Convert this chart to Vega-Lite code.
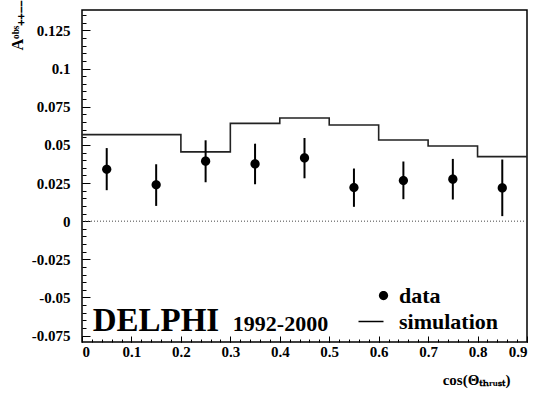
{
  "$schema": "https://vega.github.io/schema/vega-lite/v6.json",
  "width": 445,
  "height": 332,
  "autosize": {"type": "none"},
  "padding": {"left": 82, "top": 10, "right": 10, "bottom": 55},
  "background": "white",
  "config": {
    "view": {"stroke": "black", "strokeWidth": 1.5},
    "font": "serif",
    "axis": {
      "labelFont": "serif",
      "labelFontWeight": "bold",
      "labelFontSize": 15,
      "labelColor": "black",
      "titleFont": "serif",
      "titleFontWeight": "bold",
      "titleColor": "black",
      "tickColor": "black",
      "grid": false,
      "domain": false
    }
  },
  "datasets": {
    "points": [
      {"x": 0.05, "y": 0.0340, "lo": 0.0203, "hi": 0.0479, "series": "data"},
      {"x": 0.15, "y": 0.0238, "lo": 0.0100, "hi": 0.0373, "series": "data"},
      {"x": 0.25, "y": 0.0393, "lo": 0.0255, "hi": 0.0530, "series": "data"},
      {"x": 0.35, "y": 0.0375, "lo": 0.0242, "hi": 0.0508, "series": "data"},
      {"x": 0.45, "y": 0.0414, "lo": 0.0281, "hi": 0.0545, "series": "data"},
      {"x": 0.55, "y": 0.0220, "lo": 0.0094, "hi": 0.0345, "series": "data"},
      {"x": 0.65, "y": 0.0266, "lo": 0.0144, "hi": 0.0391, "series": "data"},
      {"x": 0.75, "y": 0.0275, "lo": 0.0142, "hi": 0.0408, "series": "data"},
      {"x": 0.85, "y": 0.0218, "lo": 0.0033, "hi": 0.0404, "series": "data"}
    ],
    "sim": [
      {"x": 0.0, "y": 0.0567},
      {"x": 0.1, "y": 0.0567},
      {"x": 0.2, "y": 0.0454},
      {"x": 0.3, "y": 0.0641},
      {"x": 0.4, "y": 0.0676},
      {"x": 0.5, "y": 0.0630},
      {"x": 0.6, "y": 0.0532},
      {"x": 0.7, "y": 0.0493},
      {"x": 0.8, "y": 0.0423},
      {"x": 0.9, "y": 0.0423}
    ],
    "single": [{}]
  },
  "layer": [
    {
      "data": {"name": "single"},
      "mark": {"type": "rule", "strokeDash": [1, 2], "color": "#444", "strokeWidth": 1},
      "encoding": {
        "y": {"datum": 0, "type": "quantitative", "scale": {"domain": [-0.0792, 0.1384], "nice": false, "zero": false}, "axis": null}
      }
    },
    {
      "data": {"name": "sim"},
      "mark": {"type": "line", "interpolate": "step-after", "color": "#222", "strokeWidth": 1.6},
      "encoding": {
        "x": {"field": "x", "type": "quantitative", "scale": {"domain": [0, 0.9], "nice": false, "zero": false},
          "axis": {"orient": "bottom", "values": [0, 0.1, 0.2, 0.3, 0.4, 0.5, 0.6, 0.7, 0.8, 0.9], "tickSize": -6, "tickWidth": 1, "labels": false, "title": null}},
        "y": {"field": "y", "type": "quantitative", "scale": {"domain": [-0.0792, 0.1384], "nice": false, "zero": false},
          "axis": {"orient": "left", "values": [-0.075, -0.05, -0.025, 0, 0.025, 0.05, 0.075, 0.1, 0.125], "tickSize": -8, "tickWidth": 1, "labels": false, "title": null}}
      }
    },
    {
      "data": {"name": "points"},
      "mark": {"type": "rule", "color": "black", "strokeWidth": 2},
      "encoding": {
        "x": {"field": "x", "type": "quantitative", "scale": {"domain": [0, 0.9], "nice": false, "zero": false},
          "axis": {"orient": "bottom", "values": [0, 0.02, 0.04, 0.06, 0.08, 0.1, 0.12, 0.14, 0.16, 0.18, 0.2, 0.22, 0.24, 0.26, 0.28, 0.3, 0.32, 0.34, 0.36, 0.38, 0.4, 0.42, 0.44, 0.46, 0.48, 0.5, 0.52, 0.54, 0.56, 0.58, 0.6, 0.62, 0.64, 0.66, 0.68, 0.7, 0.72, 0.74, 0.76, 0.78, 0.8, 0.82, 0.84, 0.86, 0.88, 0.9], "tickSize": -3, "tickWidth": 1, "labels": false, "title": null}},
        "y": {"field": "lo", "type": "quantitative", "scale": {"domain": [-0.0792, 0.1384], "nice": false, "zero": false},
          "axis": {"orient": "left", "values": [-0.075, -0.07, -0.065, -0.06, -0.055, -0.05, -0.045, -0.04, -0.035, -0.03, -0.025, -0.02, -0.015, -0.01, -0.005, 0, 0.005, 0.01, 0.015, 0.02, 0.025, 0.03, 0.035, 0.04, 0.045, 0.05, 0.055, 0.06, 0.065, 0.07, 0.075, 0.08, 0.085, 0.09, 0.095, 0.1, 0.105, 0.11, 0.115, 0.12, 0.125, 0.13, 0.135], "tickSize": -4, "tickWidth": 1, "labels": false, "title": null}},
        "y2": {"field": "hi"}
      }
    },
    {
      "data": {"name": "points"},
      "mark": {"type": "point", "filled": true, "color": "black", "size": 625, "opacity": 1},
      "encoding": {
        "x": {"field": "x", "type": "quantitative", "scale": {"domain": [0, 0.9], "nice": false, "zero": false},
          "axis": {"orient": "bottom", "values": [0, 0.1, 0.2, 0.3, 0.4, 0.5, 0.6, 0.7, 0.8, 0.9], "ticks": false, "tickSize": 0, "labelPadding": 2, "labelExpr": "'' + datum.value",
            "title": "cos(Θₜₕᵣᵤₛₜ)", "titleFontSize": 15, "titleX": 428, "titleY": 42, "titleAlign": "right", "titleBaseline": "alphabetic", "titleAnchor": null}},
        "y": {"field": "y", "type": "quantitative", "scale": {"domain": [-0.0792, 0.1384], "nice": false, "zero": false},
          "axis": {"orient": "left", "values": [-0.075, -0.05, -0.025, 0, 0.025, 0.05, 0.075, 0.1, 0.125], "ticks": false, "tickSize": 0, "labelPadding": 12, "labelExpr": "'' + datum.value",
            "title": "Aᵒᵇˢ₊₊₋₋", "titleFontSize": 16, "titleAngle": -90, "titleX": -60, "titleY": 40, "titleAlign": "left", "titleBaseline": "alphabetic", "titleAnchor": null}},
        "shape": {"field": "series", "type": "nominal",
          "scale": {"domain": ["data", "simulation"], "range": ["M0.37,0A0.37,0.37,0,1,1,-0.37,0A0.37,0.37,0,1,1,0.37,0Z", "M-2,-0.06H0V0.06H-2Z"]},
          "legend": {"orient": "none", "legendX": 288, "legendY": 272, "title": null, "padding": 0,
            "symbolSize": 625, "symbolFillColor": "black",
            "labelFont": "serif", "labelFontWeight": "bold", "labelFontSize": 22, "labelColor": "black",
            "labelOffset": 2, "rowPadding": 1}}
      }
    },
    {
      "data": {"name": "single"},
      "mark": {"type": "text", "text": "DELPHI", "font": "serif", "fontWeight": "bold", "fontSize": 33, "align": "left", "baseline": "alphabetic", "color": "black"},
      "encoding": {
        "x": {"datum": 0.0216, "type": "quantitative", "axis": null},
        "y": {"datum": -0.072, "type": "quantitative", "axis": null}
      }
    },
    {
      "data": {"name": "single"},
      "mark": {"type": "text", "text": "1992-2000", "font": "serif", "fontWeight": "bold", "fontSize": 22, "align": "left", "baseline": "alphabetic", "color": "black"},
      "encoding": {
        "x": {"datum": 0.305, "type": "quantitative", "axis": null},
        "y": {"datum": -0.072, "type": "quantitative", "axis": null}
      }
    }
  ],
  "resolve": {"axis": {"x": "independent", "y": "independent"}}
}
